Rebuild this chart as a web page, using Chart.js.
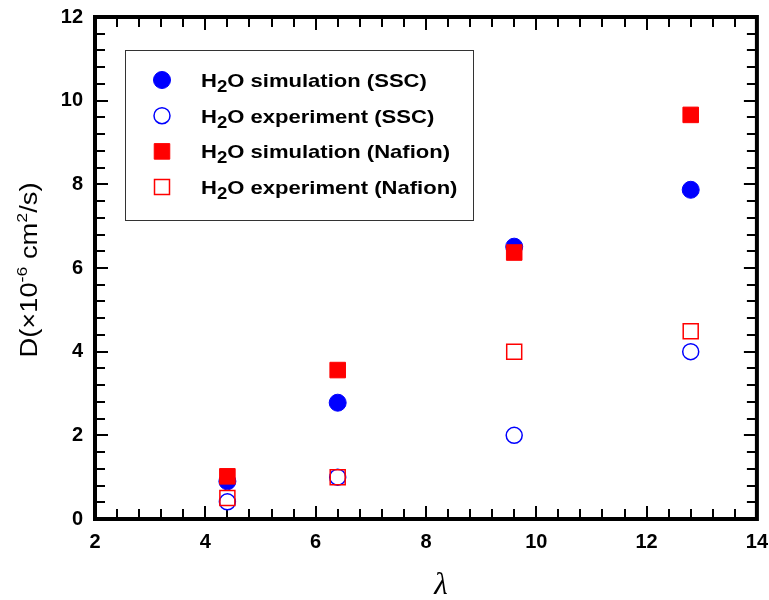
<!DOCTYPE html>
<html>
<head>
<meta charset="utf-8">
<script src="https://cdn.jsdelivr.net/npm/chart.js@4.4.1/dist/chart.umd.min.js"></script>
<style>
  html, body { margin: 0; padding: 0; background: #fff; }
  #wrap { width: 769px; height: 600px; }
</style>
</head>
<body>
<div id="wrap"><canvas id="grafico" width="769" height="600"></canvas></div>
<script>
// valores
const lambdaValues = [4.4, 6.4, 9.6, 12.8];
const sscSimulation = [0.9, 2.78, 6.51, 7.87];
const sscExperiment = [0.41, 1.0, 2.0, 4.0];
const nafionSimulation = [1.02, 3.56, 6.37, 9.66];
const nafionExperiment = [0.5, 1.0, 4.0, 4.49];

const xTicks = [2, 4, 6, 8, 10, 12, 14];
const yTicks = [0, 2, 4, 6, 8, 10, 12];
const minorStep = 0.4;

const seriesNames = ['simulation (SSC)', 'experiment (SSC)', 'simulation (Nafion)', 'experiment (Nafion)'];

const FONT = '"Liberation Sans", Arial, sans-serif';

function pontos(ys) {
  return lambdaValues.map((x, i) => ({ x: x, y: ys[i] }));
}

const datasets = [
  { label: seriesNames[0], data: pontos(sscSimulation), pointStyle: 'circle', pointRadius: 8.5,
    backgroundColor: '#0000ff', borderColor: '#0000ff', borderWidth: 1, order: 4 },
  { label: seriesNames[1], data: pontos(sscExperiment), pointStyle: 'circle', pointRadius: 8,
    backgroundColor: 'rgba(0,0,0,0)', borderColor: '#0000ff', borderWidth: 1.5, order: 3 },
  { label: seriesNames[2], data: pontos(nafionSimulation), pointStyle: 'rect', pointRadius: 11,
    backgroundColor: '#ff0000', borderColor: '#ff0000', borderWidth: 1, order: 2 },
  { label: seriesNames[3], data: pontos(nafionExperiment), pointStyle: 'rect', pointRadius: 10.6,
    backgroundColor: 'rgba(0,0,0,0)', borderColor: '#ff0000', borderWidth: 1.5, order: 1 }
];

// desenha pedacos de texto com sub/sobrescrito
function richText(ctx, parts, x, y) {
  let cx = x;
  parts.forEach(p => {
    ctx.font = p.font;
    ctx.fillText(p.t, cx, y + (p.dy || 0));
    cx += ctx.measureText(p.t).width;
  });
  return cx - x;
}
function richWidth(ctx, parts) {
  let w = 0;
  parts.forEach(p => { ctx.font = p.font; w += ctx.measureText(p.t).width; });
  return w;
}

const molduraPlugin = {
  id: 'moldura',
  beforeDatasetsDraw(chart) {
    const { ctx, chartArea: a, scales } = chart;
    ctx.save();
    ctx.strokeStyle = '#000';
    // ticks internos
    ctx.lineWidth = 2;
    ctx.beginPath();
    const nx = Math.round((xTicks[xTicks.length - 1] - xTicks[0]) / minorStep);
    for (let i = 0; i <= nx; i++) {
      const v = xTicks[0] + i * minorStep;
      const px = Math.round(scales.x.getPixelForValue(v));
      const len = i % 5 === 0 ? 13 : 10;
      ctx.moveTo(px, a.bottom); ctx.lineTo(px, a.bottom - len);
      ctx.moveTo(px, a.top); ctx.lineTo(px, a.top + len);
    }
    const ny = Math.round((yTicks[yTicks.length - 1] - yTicks[0]) / minorStep);
    for (let i = 0; i <= ny; i++) {
      const v = yTicks[0] + i * minorStep;
      const py = Math.round(scales.y.getPixelForValue(v));
      const len = i % 5 === 0 ? 13 : 10;
      ctx.moveTo(a.left, py); ctx.lineTo(a.left + len, py);
      ctx.moveTo(a.right, py); ctx.lineTo(a.right - len, py);
    }
    ctx.stroke();
    ctx.lineWidth = 4;
    ctx.strokeRect(a.left, a.top, a.right - a.left, a.bottom - a.top);
    ctx.restore();
  },
  afterDraw(chart) {
    const { ctx, chartArea: a } = chart;
    ctx.save();
    ctx.fillStyle = '#000';
    ctx.textBaseline = 'alphabetic';

    // titulo eixo y
    const fy = '23px ' + FONT, fs = '15px ' + FONT;
    const yParts = [
      { t: 'D(\u00d710', font: fy }, { t: '-6', font: fs, dy: -10 },
      { t: ' cm', font: fy }, { t: '2', font: fs, dy: -10 }, { t: '/s)', font: fy }
    ];
    const wy = richWidth(ctx, yParts);
    const sy = 175 / wy;
    ctx.save();
    ctx.translate(37, (a.top + a.bottom) / 2 + 2);
    ctx.rotate(-Math.PI / 2);
    ctx.scale(sy, 1);
    ctx.textAlign = 'left';
    richText(ctx, yParts, -wy / 2, 0);
    ctx.restore();

    // titulo eixo x
    ctx.font = 'italic 31px "Liberation Serif", "Times New Roman", serif';
    ctx.textAlign = 'center';
    ctx.fillText('\u03bb', 441, 594);

    // legenda
    const bx = a.left + 30, by = a.top + 33, bw = 348, bh = 170;
    ctx.lineWidth = 1;
    ctx.strokeStyle = '#333';
    ctx.strokeRect(bx + 0.5, by + 0.5, bw, bh);
    ctx.textAlign = 'left';
    const fl = 'bold 19px ' + FONT, fsub = 'bold 16px ' + FONT;
    const sx = 1.16;
    chart.data.datasets.forEach((ds, i) => {
      const cy = by + 30 + i * 35.7;
      ctx.fillStyle = ds.backgroundColor;
      ctx.strokeStyle = ds.borderColor;
      ctx.lineWidth = ds.borderWidth;
      Chart.helpers.drawPoint(ctx, {
        pointStyle: ds.pointStyle, radius: ds.pointRadius, rotation: 0, borderWidth: ds.borderWidth
      }, a.left + 67, cy);
      ctx.fillStyle = '#000';
      ctx.save();
      ctx.translate(a.left + 106, cy + 7);
      ctx.scale(sx, 1);
      richText(ctx, [
        { t: 'H', font: fl }, { t: '2', font: fsub, dy: 5 }, { t: 'O ' + ds.label, font: fl }
      ], 0, 0);
      ctx.restore();
    });
    ctx.restore();
  }
};

const ctx = document.getElementById('grafico').getContext('2d');
new Chart(ctx, {
  type: 'scatter',
  data: { datasets: datasets },
  options: {
    responsive: false,
    animation: false,
    layout: { padding: { left: 0, top: 17, right: 11, bottom: 0 } },
    plugins: { legend: { display: false }, tooltip: { enabled: false } },
    scales: {
      x: {
        type: 'linear', min: xTicks[0], max: xTicks[xTicks.length - 1],
        afterFit(scale) { scale.height = 81; scale.paddingLeft = 0; scale.paddingRight = 0; },
        afterBuildTicks(scale) { scale.ticks = xTicks.map(v => ({ value: v })); },
        grid: { display: false, drawTicks: false },
        border: { display: false },
        ticks: { color: '#000', padding: 11, font: { family: FONT, size: 20, weight: 'bold' } }
      },
      y: {
        type: 'linear', min: yTicks[0], max: yTicks[yTicks.length - 1],
        afterFit(scale) { scale.width = 95; scale.paddingTop = 0; scale.paddingBottom = 0; },
        afterBuildTicks(scale) { scale.ticks = yTicks.map(v => ({ value: v })); },
        grid: { display: false, drawTicks: false },
        border: { display: false },
        ticks: { color: '#000', padding: 12, font: { family: FONT, size: 20, weight: 'bold' } }
      }
    }
  },
  plugins: [molduraPlugin]
});
</script>
</body>
</html>
